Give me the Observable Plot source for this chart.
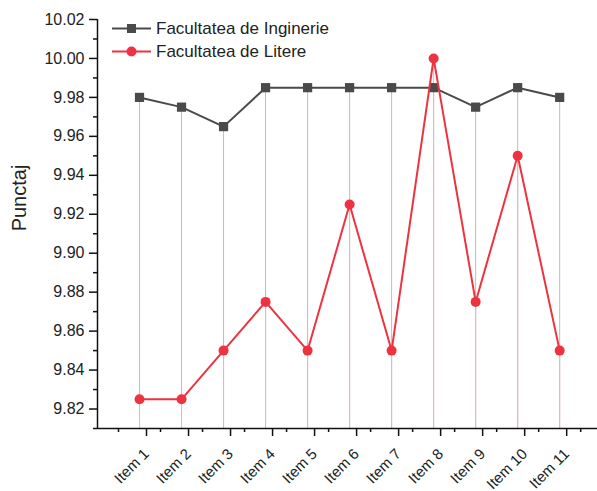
<!DOCTYPE html>
<html>
<head>
<meta charset="utf-8">
<script src="https://cdn.jsdelivr.net/npm/d3@7"></script>
<script src="https://cdn.jsdelivr.net/npm/@observablehq/plot@0.6"></script>
<style>
  html, body { margin: 0; padding: 0; background: #fff; }
  #wrap { position: relative; width: 597px; height: 491px; font-family: "Liberation Sans", Arial, sans-serif; }
  #legend { position: absolute; left: 112px; top: 17px; font-size: 17px; color: #222; }
  #legend .row { display: flex; align-items: center; height: 23px; }
  #legend svg { margin-right: 4px; }
  #ylabel { position: absolute; left: 19px; top: 198px; font-size: 20px; color: #222; white-space: nowrap;
            transform: translate(-50%, -50%) rotate(-90deg); line-height: 1; }
</style>
</head>
<body>
<div id="wrap">
  <div id="chart"></div>
  <div id="legend"></div>
  <div id="ylabel"></div>
</div>
<script>
const items = ["Item 1","Item 2","Item 3","Item 4","Item 5","Item 6","Item 7","Item 8","Item 9","Item 10","Item 11"];
const inginerie = [9.98, 9.975, 9.965, 9.985, 9.985, 9.985, 9.985, 9.985, 9.975, 9.985, 9.98];
const litere = [9.825, 9.825, 9.85, 9.875, 9.85, 9.925, 9.85, 10.00, 9.875, 9.95, 9.85];
const seriesNames = ["Facultatea de Inginerie", "Facultatea de Litere"];
const yTitle = "Punctaj";
const colors = ["#4a4a4a", "#ee3340"];
const yMajor = [9.82, 9.84, 9.86, 9.88, 9.90, 9.92, 9.94, 9.96, 9.98, 10.00, 10.02];
const yMinor = [9.81, 9.83, 9.85, 9.87, 9.89, 9.91, 9.93, 9.95, 9.97, 9.99, 10.01];

const ing = items.map((it, i) => ({pos: i + 1, item: it, v: inginerie[i]}));
const lit = items.map((it, i) => ({pos: i + 1, item: it, v: litere[i]}));
const xMajor = d3.range(1, items.length + 1);
const xMinor = d3.range(0.5, items.length + 1, 1);
const yBase = 9.81;

const plot = Plot.plot({
  width: 597,
  height: 491,
  marginLeft: 97,
  marginRight: 0,
  marginTop: 19,
  marginBottom: 63,
  style: {fontFamily: "Liberation Sans, Arial, sans-serif", color: "#222", background: "#fff"},
  x: {type: "linear", domain: [0, 11.9]},
  y: {domain: [9.81, 10.02]},
  marks: [
    Plot.ruleX(ing, {x: "pos", y1: yBase, y2: "v", stroke: "#bdbdbd", strokeWidth: 1}),
    Plot.ruleX(lit, {x: "pos", y1: yBase, y2: "v", stroke: "#f2b3b5", strokeWidth: 1}),
    Plot.line(ing, {x: "pos", y: "v", stroke: colors[0], strokeWidth: 2}),
    Plot.dot(ing, {x: "pos", y: "v", symbol: "square", r: 5.2, fill: colors[0], stroke: "none"}),
    Plot.line(lit, {x: "pos", y: "v", stroke: colors[1], strokeWidth: 2}),
    Plot.dot(lit, {x: "pos", y: "v", r: 5, fill: colors[1], stroke: "none"}),
    Plot.ruleY([yBase], {stroke: "#111", strokeWidth: 1.5}),
    Plot.ruleX([0], {y1: yBase, y2: 10.02, stroke: "#111", strokeWidth: 1.5}),
    Plot.axisY({ticks: yMajor, tickSize: 8, tickPadding: 5, tickFormat: d3.format(".2f"), fontSize: 16, label: null, stroke: "#111", strokeWidth: 1.5}),
    Plot.axisY({ticks: yMinor, tickSize: 4, tickFormat: () => "", label: null, stroke: "#111", strokeWidth: 1.5}),
    Plot.axisX({ticks: xMajor, tickSize: 8, tickPadding: 15, dx: 7, tickRotate: -45, tickFormat: d => items[d - 1], fontSize: 15, label: null, stroke: "#111", strokeWidth: 1.5}),
    Plot.axisX({ticks: xMinor, tickSize: 4, tickFormat: () => "", label: null, stroke: "#111", strokeWidth: 1.5})
  ]
});
document.getElementById("chart").appendChild(plot);
document.getElementById("ylabel").textContent = yTitle;

const legend = document.getElementById("legend");
seriesNames.forEach((name, i) => {
  const row = document.createElement("div");
  row.className = "row";
  const marker = i === 0
    ? `<rect x="15" y="7" width="9" height="9" fill="${colors[i]}"/>`
    : `<circle cx="19.5" cy="11.5" r="5" fill="${colors[i]}"/>`;
  row.innerHTML = `<svg width="40" height="23"><line x1="0" x2="39" y1="11.5" y2="11.5" stroke="${colors[i]}" stroke-width="2"/>${marker}</svg><span>${name}</span>`;
  legend.appendChild(row);
});
</script>
</body>
</html>
